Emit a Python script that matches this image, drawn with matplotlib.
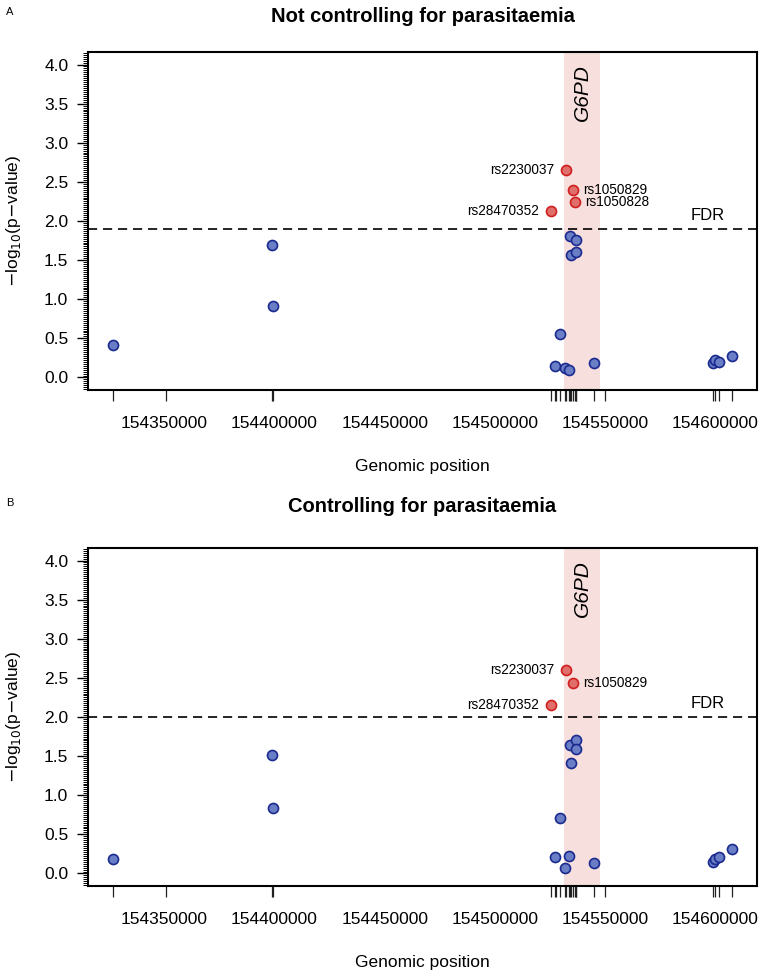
import numpy as np
import matplotlib
matplotlib.use("Agg")
import matplotlib.pyplot as plt
from matplotlib.ticker import MultipleLocator, FixedLocator, FuncFormatter
import matplotlib.transforms as mtransforms

plt.rcParams['font.family'] = ['Liberation Sans', 'DejaVu Sans']

# ---------------- data ----------------
positions = [154326724, 154350907, 154398750, 154399150, 154525272, 154527087,
             154527904, 154529673, 154531942, 154532396, 154533439, 154533893,
             154534528, 154535436, 154536162, 154536615, 154536797, 154544782,
             154550091, 154598956, 154599682, 154601497, 154607577]
snp_names = ["", "", "", "", "rs28470352", "", "", "", "", "rs2230037", "", "",
             "", "rs1050829", "rs1050828", "", "", "", "", "", "", "", ""]
nan = np.nan
logp_not_controlling = [0.413, nan, 1.69, 0.911, 2.13, 0.144, nan, 0.553, 0.124,
                        2.654, 0.093, 1.806, 1.563, 2.40, 2.245, 1.755, 1.606,
                        0.183, nan, 0.188, 0.221, 0.204, 0.272]
logp_controlling = [0.19, nan, 1.52, 0.84, 2.147, 0.208, nan, 0.712, 0.073,
                    2.603, 0.221, 1.64, 1.406, 2.437, nan, 1.70, 1.585,
                    0.132, nan, 0.15, 0.188, 0.208, 0.316]
fdr_thresholds = [1.904, 2.006]
panel_titles = ["Not controlling for parasitaemia", "Controlling for parasitaemia"]
panel_letters = ["A", "B"]
gene_name = "G6PD"
gene_start, gene_end = 154531391, 154547572
x_ticks = [154350000, 154400000, 154450000, 154500000, 154550000, 154600000]
y_ticks = [0.0, 0.5, 1.0, 1.5, 2.0, 2.5, 3.0, 3.5, 4.0]
label_side = {"rs28470352": "left", "rs2230037": "left",
              "rs1050829": "right", "rs1050828": "right"}

# ---------------- figure ----------------
W, H = 760, 973
fig = plt.figure(figsize=(W / 100, H / 100), dpi=100)

def px_axes(left, top, right, bottom):
    return fig.add_axes([left / W, 1 - bottom / H, (right - left) / W, (bottom - top) / H])

axes_px = [(88, 52, 757, 390), (88, 548, 757, 886)]
title_y = [16, 507]
letter_y = [12, 503]

pos = np.array(positions, dtype=float)
xmin, xmax = np.nanmin(pos), np.nanmax(pos)
xr = xmax - xmin
xlim = (xmin - 0.04 * xr, xmax + 0.04 * xr)
ylim = (-0.16, 4.16)

blue_face, blue_edge = "#6a7ec6", "#1b2a8e"
red_face, red_edge = "#e06e6a", "#d01f1f"

for k, vals in enumerate([logp_not_controlling, logp_controlling]):
    l, t, r, b = axes_px[k]
    ax = px_axes(l, t, r, b)
    v = np.array(vals, dtype=float)
    thr = fdr_thresholds[k]

    ax.axvspan(gene_start, gene_end, color="#f6dfdc", zorder=0, lw=0)
    ax.axhline(thr, color="black", lw=1.2, ls=(0, (5.5, 3.5)), zorder=1)

    sig = v > thr
    nonsig = (~sig) & ~np.isnan(v)
    ax.scatter(pos[nonsig], v[nonsig], s=52, facecolor=blue_face, edgecolor=blue_edge,
               linewidth=1.2, zorder=3)
    ax.scatter(pos[sig], v[sig], s=52, facecolor=red_face, edgecolor=red_edge,
               linewidth=1.2, zorder=4)

    for i in np.where(sig)[0]:
        name = snp_names[i]
        side = label_side.get(name, "left")
        dx = -8.5 if side == "left" else 7.5
        ax.annotate(name, (pos[i], v[i]), xytext=(dx, 0), textcoords="offset points",
                    ha="right" if side == "left" else "left", va="center", fontsize=9.8,
                    zorder=5)

    # gene label
    ax.text((gene_start + gene_end) / 2, 4.01, gene_name, rotation=90, ha="center",
            va="top", fontsize=15, style="italic", zorder=2)

    # FDR text
    trans = mtransforms.blended_transform_factory(ax.transAxes, ax.transData)
    ax.text(0.927, thr, "FDR", transform=trans, ha="center", va="bottom",
            fontsize=12, zorder=5).set_transform(trans + mtransforms.ScaledTranslation(0, 4 / 72, fig.dpi_scale_trans))

    # rug
    rug_trans = mtransforms.blended_transform_factory(ax.transData, ax.transAxes)
    rug_len = 11 / (b - t)
    for p in pos:
        ax.plot([p, p], [0, -rug_len], transform=rug_trans, color="#222222", lw=0.9,
                clip_on=False, solid_capstyle="butt", zorder=1)

    ax.set_xlim(xlim)
    ax.set_ylim(ylim)

    ax.xaxis.set_major_locator(FixedLocator(x_ticks))
    ax.xaxis.set_major_formatter(FuncFormatter(lambda x, p: f"{int(round(x))}"))
    ax.tick_params(axis="x", length=0, pad=18.5, labelsize=12.5)

    ax.yaxis.set_major_locator(FixedLocator(y_ticks))
    ax.yaxis.set_major_formatter(FuncFormatter(lambda y, p: f"{y:.1f}"))
    ax.yaxis.set_minor_locator(MultipleLocator(0.025))
    ax.tick_params(axis="y", which="major", length=7.7, width=1.0, pad=6.5, labelsize=12.5)
    ax.tick_params(axis="y", which="minor", length=3.8, width=0.7)

    for sp in ax.spines.values():
        sp.set_linewidth(1.5)

    ax.set_xlabel("Genomic position", fontsize=12.5)
    ax.xaxis.set_label_coords(0.5, -(76 / (b - t)))
    ax.xaxis.label.set_va("center")
    ax.set_ylabel(r"$-$log$_{10}$(p$-$value)", fontsize=12.5)
    ax.yaxis.set_label_coords(-(l - 14) / (r - l), 0.5)
    ax.yaxis.label.set_va("center")

    fig.text((l + r) / 2 / W, 1 - title_y[k] / H, panel_titles[k], ha="center",
             va="center", fontsize=14.5, fontweight="bold")
    fig.text(10 / W, 1 - letter_y[k] / H, panel_letters[k], ha="center", va="center",
             fontsize=8)

fig.savefig("out.png", dpi=100)
